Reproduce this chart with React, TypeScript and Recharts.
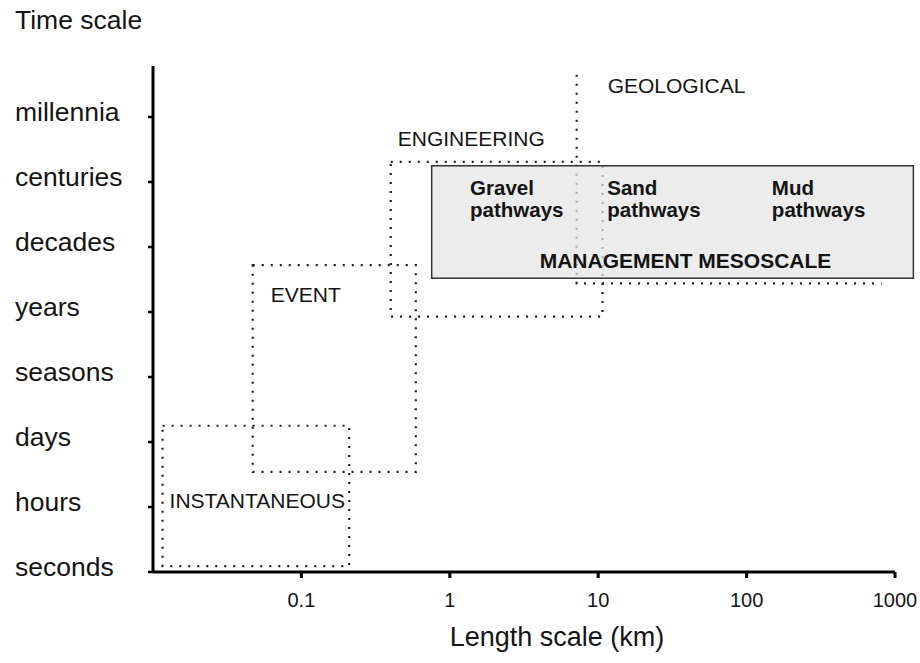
import { ReferenceArea, Scatter, ScatterChart, XAxis, YAxis } from 'recharts'

// y positions are ordinal steps: seconds = 0 ... millennia = 7
const timeScales = ['seconds', 'hours', 'days', 'seasons', 'years', 'decades', 'centuries', 'millennia']
const lengthTicks = [0.1, 1, 10, 100, 1000]

const zoneNames = ['INSTANTANEOUS', 'EVENT', 'ENGINEERING']
const zoneLengthMin = [0.0116, 0.047, 0.4]
const zoneLengthMax = [0.21, 0.59, 10.7]
const zoneTimeMin = [0.09, 1.54, 3.93]
const zoneTimeMax = [2.25, 4.72, 6.31]

const geologicalLength = [7.16, 813]
const geologicalTime = [4.44, 7.65]

const mesoscaleLength = [0.755, 1330]
const mesoscaleTime = [4.52, 6.25]

const pathwayNames = ['Gravel', 'Sand', 'Mud']
const pathwayLength = [1.37, 11.5, 148]

const FONT = '"Liberation Sans", Arial, Helvetica, sans-serif'
const INK = '#141414'
const DOTS = { stroke: '#1e1e1e', strokeWidth: 2.2, strokeDasharray: '2 7', fill: 'none' }
// label offsets (px) from the top-left corner of each zone box
const zoneLabelOffset = [
  [7, 82],
  [18, 37],
  [7, -16],
]

const pathways = pathwayNames.map((name, i) => ({ name, x: pathwayLength[i], y: mesoscaleTime[1] }))

function TimeTick({ y, payload }: any) {
  return (
    <text x={15} y={y + 4} fontSize={26.5} fill={INK} fontFamily={FONT} textAnchor="start">
      {timeScales[payload.value]}
    </text>
  )
}

function LengthTick({ x, y, payload }: any) {
  return (
    <text x={x} y={y + 27} fontSize={20} fill={INK} fontFamily={FONT} textAnchor="middle">
      {payload.value}
    </text>
  )
}

function ZoneBox(props: any, i: number) {
  const { x, y, width, height } = props
  return (
    <g>
      <rect x={x} y={y} width={width} height={height} {...DOTS} />
      <text
        x={x + zoneLabelOffset[i][0]}
        y={y + zoneLabelOffset[i][1]}
        fontSize={21}
        fill={INK}
        fontFamily={FONT}
      >
        {zoneNames[i]}
      </text>
    </g>
  )
}

function GeologicalShape({ x, y, width, height }: any) {
  return (
    <g>
      <path d={`M${x},${y} L${x},${y + height} L${x + width},${y + height}`} {...DOTS} />
      <text x={x + 31} y={y + 18} fontSize={21} fill={INK} fontFamily={FONT}>
        GEOLOGICAL
      </text>
    </g>
  )
}

function MesoscaleShape({ x, y, width, height }: any) {
  return (
    <g>
      <rect x={x} y={y} width={width} height={height} fill="#e4e4e4" fillOpacity={0.72} stroke="#333" strokeWidth={1.5} />
      <text
        x={x + width / 2 + 13}
        y={y + height - 10}
        fontSize={21}
        fontWeight="bold"
        fill={INK}
        fontFamily={FONT}
        textAnchor="middle"
      >
        MANAGEMENT MESOSCALE
      </text>
    </g>
  )
}

function PathwayLabel({ cx, cy, payload }: any) {
  return (
    <g>
      <text x={cx} y={cy + 29} fontSize={20.5} fontWeight="bold" fill={INK} fontFamily={FONT}>
        {payload.name}
      </text>
      <text x={cx} y={cy + 51} fontSize={20.5} fontWeight="bold" fill={INK} fontFamily={FONT}>
        pathways
      </text>
    </g>
  )
}

export default function App() {
  return (
    <div style={{ position: 'absolute', left: 0, top: 0, width: 920, height: 663, background: '#fff' }}>
      <ScatterChart width={920} height={663} margin={{ top: 66, right: 25, bottom: 0, left: 0 }}>
        <XAxis
          type="number"
          dataKey="x"
          scale="log"
          domain={[0.01, 1000]}
          allowDataOverflow
          ticks={lengthTicks}
          height={91}
          axisLine={{ stroke: '#000', strokeWidth: 3 }}
          tickLine={{ stroke: '#000', strokeWidth: 3 }}
          tickSize={6}
          tick={<LengthTick />}
          label={(p: any) => (
            <text
              x={p.viewBox.x + p.viewBox.width / 2 + 33}
              y={p.viewBox.y + 74}
              fontSize={27}
              fill={INK}
              fontFamily={FONT}
              textAnchor="middle"
            >
              Length scale (km)
            </text>
          )}
        />
        <YAxis
          type="number"
          dataKey="y"
          domain={[0, 7.785]}
          allowDataOverflow
          ticks={[0, 1, 2, 3, 4, 5, 6, 7]}
          width={153}
          axisLine={{ stroke: '#000', strokeWidth: 3 }}
          tickLine={{ stroke: '#000', strokeWidth: 2.5 }}
          tickSize={5}
          tick={<TimeTick />}
          label={() => (
            <text x={15} y={29} fontSize={26.5} fill={INK} fontFamily={FONT}>
              Time scale
            </text>
          )}
        />
        {zoneNames.map((name, i) => (
          <ReferenceArea
            key={name}
            x1={zoneLengthMin[i]}
            x2={zoneLengthMax[i]}
            y1={zoneTimeMin[i]}
            y2={zoneTimeMax[i]}
            ifOverflow="visible"
            shape={(p: any) => ZoneBox(p, i)}
          />
        ))}
        <ReferenceArea
          x1={geologicalLength[0]}
          x2={geologicalLength[1]}
          y1={geologicalTime[0]}
          y2={geologicalTime[1]}
          ifOverflow="visible"
          shape={(p: any) => <GeologicalShape {...p} />}
        />
        <ReferenceArea
          x1={mesoscaleLength[0]}
          x2={mesoscaleLength[1]}
          y1={mesoscaleTime[0]}
          y2={mesoscaleTime[1]}
          ifOverflow="visible"
          shape={(p: any) => <MesoscaleShape {...p} />}
        />
        <Scatter data={pathways} dataKey="y" isAnimationActive={false} shape={(p: any) => <PathwayLabel {...p} />} />
      </ScatterChart>
    </div>
  )
}
